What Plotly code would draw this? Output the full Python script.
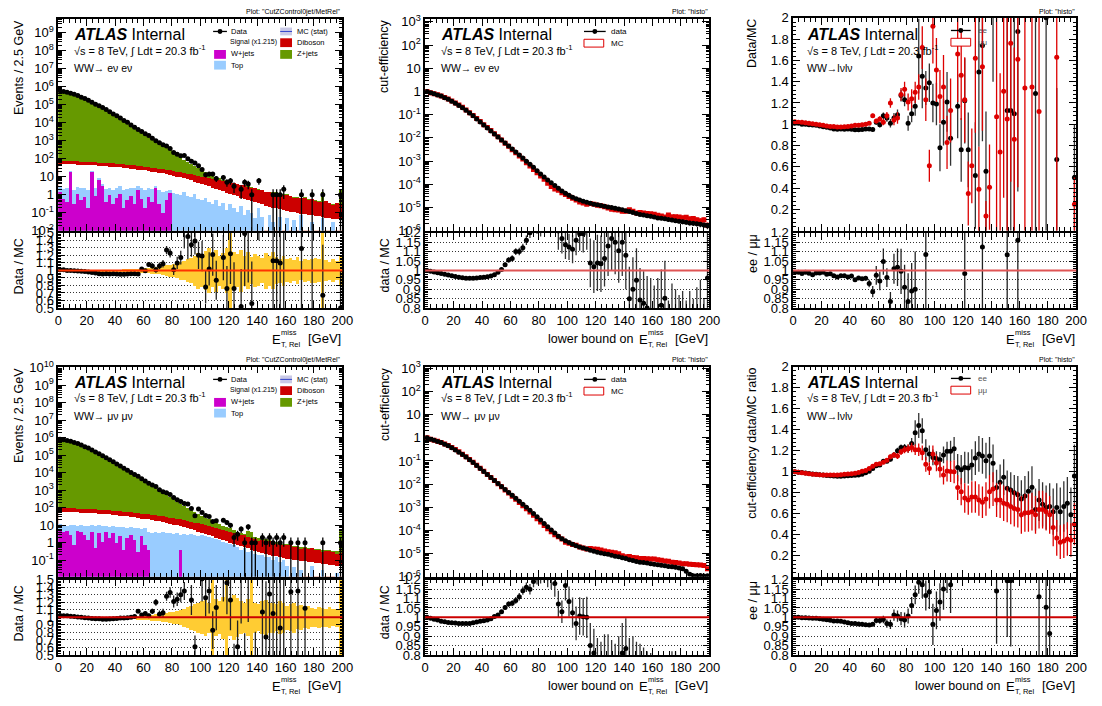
import plotly.graph_objects as go

W, H = 1102, 706
FONT = "Liberation Sans, Arial, Helvetica, sans-serif"
N = None
NBINS, BIN_W = 80, 2.5
X = [BIN_W * (i + 0.5) for i in range(NBINS)]

# ---------------- ee histogram (top-left), cumulative stack heights ----------------
Z_TOT_EE = [5.6e5,5.2e5,4.8e5,4.3e5,3.7e5,3.2e5,2.6e5,2.2e5,1.8e5,1.4e5,
            1.1e5,8.9e4,7.1e4,5.5e4,4.2e4,3.2e4,2.5e4,1.9e4,1.4e4,1.1e4,
            7.9e3,5.9e3,4.4e3,3.2e3,2.4e3,1.8e3,1.3e3,980,720,540,
            400,300,220,160,123,91,69,54,42,33,
            25,19,15,12,10,8.3,7.0,6.1,5.4,4.8,
            4.2,3.7,3.6,3.0,2.7,2.6,2.15,1.9,1.55,1.55,
            1.4,1.45,1.2,1.1,1.1,0.92,0.76,0.78,0.7,0.74,
            0.6,0.64,0.52,0.44,1.5,0.48,0.38,0.31,0.37,2.0]
DIB_CUM_EE = [83,79,79,76,76,74,72,71,69,68,
              66,63,62,60,58,56,54,52,50,48,
              46,44,42,40,37,35,33,31,29,27,
              25,23,21,19.5,18,16.5,15,13.8,12.6,11.5,
              10.5,9.7,8.9,8.2,7.5,6.8,6.1,5.5,4.9,4.4,
              3.9,3.5,3.4,2.8,2.5,2.5,2.0,1.8,1.4,1.45,
              1.3,1.35,1.1,1.0,1.05,0.85,0.7,0.72,0.66,0.7,
              0.56,0.6,0.48,0.4,0.41,0.45,0.35,0.28,0.35,0.28]
SIG_CUM_EE = [55,52,52,50,50,49,48,47,46,45,
              44,42,41,40,38,37,35,34,32,31,
              29,28,26,25,23,22,20,19,17,16,
              14,13,12,10.5,9.5,8.5,7.5,6.5,5.6,4.8,
              4.1,3.5,3.0,2.6,2.2,1.9,1.6,1.35,1.15,1.0,
              0.85,0.72,0.62,0.53,0.45,0.39,0.34,0.3,0.26,0.23,
              0.2,0.18,0.16,0.14,0.13,0.12,0.11,0.1,0.09,0.085,
              0.08,0.075,0.07,0.065,0.06,0.055,0.05,0.048,0.045,0.04]
TOP_CUM_EE = [3.0,2.2,2.5,22,2.0,2.8,2.4,2.6,2.0,22,
              2.6,8.5,4.0,2.2,2.6,2.0,2.4,3.2,2.0,2.2,
              2.6,2.4,3.0,2.3,2.0,2.4,2.2,3.0,1.8,1.5,
              1.6,2.0,1.3,1.2,1.0,1.4,0.9,0.8,1.1,0.6,
              0.5,0.7,0.4,0.3,0.5,0.25,0.35,0.15,0.3,0.2,
              0.12,0.25,0.08,0.15,0.1,0.05,0.2,0.06,N,0.08,
              0.03,N,0.06,N,0.05,N,0.04,N,0.08,N,
              N,0.03,N,N,0.05,N,N,0.03,N,N]
W_EE = [1.5,0.6,0.4,20,0.3,1.2,0.5,0.8,0.2,20,
        0.9,7.0,3.0,0.4,1.0,0.3,0.7,1.1,0.2,0.5,
        0.9,0.3,2.0,0.6,0.2,0.8,0.4,2.3,0.3,0.1,
        0.5,1.3] + [N] * 48
DATA_EE = [5.7e5,5.25e5,4.8e5,4.3e5,3.7e5,3.18e5,2.57e5,2.17e5,1.76e5,1.36e5,
           1.06e5,8.5e4,6.8e4,5.3e4,4.0e4,3.05e4,2.38e4,1.8e4,1.33e4,1.05e4,
           7.5e3,5.6e3,4.2e3,3.26e3,2.39e3,1.94e3,1.38e3,990,763,589,
           508,369,222,176,144,149,100,72,58,40,
           25,13,14,14,8,N,9,5,6,3,
           N,2,5,4,1,N,6,N,N,N,
           1,1,1,2,N,N,N,N,1,N,
           N,1,N,N,1,N,N,N,N,1]
MCSTAT_EE = [0.004,0.004,0.004,0.005,0.005,0.005,0.006,0.006,0.007,0.007,
             0.008,0.008,0.009,0.01,0.011,0.012,0.013,0.014,0.016,0.018,
             0.02,0.022,0.025,0.028,0.032,0.036,0.04,0.045,0.05,0.06,
             0.07,0.08,0.09,0.1,0.12,0.13,0.15,0.17,0.2,0.24,
             0.22,0.26,0.3,0.22,0.28,0.2,0.24,0.3,0.6,0.25,
             0.22,0.28,0.2,0.25,0.18,0.22,0.2,0.17,0.24,0.2,
             0.25,0.18,0.16,0.2,0.15,0.17,0.14,0.18,0.13,0.15,
             0.14,0.16,0.17,0.15,0.6,0.14,0.12,0.15,0.13,0.2]

# ---------------- mumu histogram (bottom-left) ----------------
Z_TOT_MM = [7.9e5,7.4e5,6.8e5,6.0e5,5.2e5,4.5e5,3.7e5,3.0e5,2.5e5,1.95e5,
            1.55e5,1.2e5,9.3e4,7.2e4,5.5e4,4.2e4,3.2e4,2.4e4,1.8e4,1.38e4,
            1.02e4,7.8e3,5.8e3,4.3e3,3.2e3,2.4e3,1.8e3,1.35e3,1.0e3,760,
            560,420,310,230,170,126,95,72,56,44,
            35,28,22,18,14,11.5,9.5,8.0,6.8,5.8,
            4.5,3.9,3.4,5.0,4.0,2.3,2.0,1.8,1.6,1.4,
            1.25,1.1,1.0,0.9,0.83,0.85,0.71,0.66,0.61,0.57,
            0.53,0.53,0.47,0.44,0.41,0.39,0.39,0.35,0.33,5.0]
DIB_CUM_MM = [105,100,98,96,95,93,91,89,87,85,
              82,80,77,75,72,70,67,64,61,58,
              56,53,50,48,45,43,40,38,35,33,
              31,28,26,24,22,20,18,16,14.5,13,
              11.5,10.5,9.2,8.2,7.2,6.3,5.5,4.8,4.2,3.7,
              3.2,2.8,2.9,2.2,1.95,1.75,1.3,1.4,1.25,1.3,
              1.0,0.92,0.75,0.78,0.72,0.8,0.62,0.58,0.48,0.5,
              0.47,0.5,0.41,0.38,0.3,0.34,0.36,0.3,0.24,0.26]
SIG_CUM_MM = [62,60,59,58,57,56,55,54,53,51,
              50,48,46,45,43,41,39,37,35,33,
              31,29,27,25,24,22,20,18.5,17,15.5,
              14,12.5,11,10,9,8,7,6,5.2,4.5,
              3.9,3.3,2.8,2.4,2.0,1.7,1.45,1.25,1.05,0.9,
              0.77,0.66,0.57,0.49,0.42,0.36,0.31,0.27,0.24,0.21,
              0.19,0.17,0.15,0.14,0.13,0.12,0.11,0.1,0.095,0.09,
              0.085,0.08,0.075,0.07,0.065,0.06,0.058,0.055,0.05,0.048]
TOP_CUM_MM = [12,11,9,10,10,9.5,11,9,9,10,
              9,10,9,9.5,8,9,8,8.5,8,7.5,
              8,7,7.5,6.5,7,4.0,3.5,4.5,3.8,4.2,
              3.5,3.8,3.2,3.6,3.0,3.4,2.8,3.2,3.0,2.6,
              2.8,2.5,2.2,2.0,1.8,1.4,1.2,1.0,0.9,0.8,
              0.6,0.4,0.5,0.3,0.35,0.25,0.2,0.22,0.15,0.16,
              0.1,0.15,0.08,0.1,0.05,N,0.04,N,0.03,N,
              N,0.05,N,N,0.03,N,N,N,0.02,N]
W_MM = [5,4,5,3,0.8,5,4.5,3,1.5,4,
        0.5,3.5,1.2,4,2,3.5,1,2.5,0.4,2,
        3,1.5,0.3,2.5,0.8,0.4,N,N,N,N,
        N,N,N,N,0.4] + [N] * 45
DATA_MM = [8.1e5,7.55e5,6.94e5,6.12e5,5.28e5,4.57e5,3.74e5,3.03e5,2.51e5,1.95e5,
           1.52e5,1.18e5,9.1e4,7.0e4,5.38e4,4.12e4,3.15e4,2.38e4,1.78e4,1.37e4,
           1.02e4,7.9e3,6.3e3,4.4e3,3.36e3,2.45e3,1.94e3,1.62e3,1.04e3,806,
           717,559,375,285,221,170,163,89,34,84,
           53,35,31,16,18,N,19,14,10,2,
           3,6,1,8,1,1,N,2,1,2,
           1,2,1,2,N,1,N,1,N,1,
           N,N,N,N,1,N,N,N,N,1]
MCSTAT_MM = [0.004,0.004,0.004,0.005,0.005,0.005,0.006,0.006,0.007,0.007,
             0.008,0.008,0.009,0.01,0.011,0.012,0.013,0.014,0.016,0.018,
             0.02,0.022,0.025,0.028,0.032,0.036,0.04,0.045,0.05,0.055,
             0.06,0.07,0.08,0.09,0.1,0.12,0.14,0.16,0.18,0.2,
             0.22,0.24,0.2,0.5,0.25,0.22,0.28,0.6,0.25,0.3,
             0.26,0.22,0.2,0.25,0.6,0.2,0.18,0.22,0.24,0.2,
             0.2,0.18,0.22,0.2,0.16,0.18,0.2,0.15,0.17,0.14,
             0.15,0.13,0.12,0.14,0.13,0.12,0.14,0.11,0.12,0.5]

# ---------------- histogram Data/MC ratios ----------------
RATIO_EE = [1.009,1.009,1.0,1.0,0.996,0.993,0.99,0.985,0.978,0.972,
            0.965,0.957,0.954,0.956,0.954,0.955,0.953,0.949,0.95,0.952,
            0.955,0.956,0.952,1.02,0.995,1.08,1.06,1.01,1.06,1.09,
            1.27,1.23,1.01,1.1,1.17,1.64,1.45,1.34,1.39,1.2,
            1.19,0.78,1.02,1.21,0.87,N,1.17,0.76,1.22,0.76,
            N,0.52,1.49,1.74,0.56,N,2.4,N,N,N,
            1.13,1.13,1.1,1.87,N,N,N,N,1.29,N,
            N,2.0,N,N,0.67,N,N,N,N,0.5]
RATIO_EE_ERR = [0.003,0.003,0.003,0.003,0.003,0.004,0.004,0.004,0.005,0.005,
                0.005,0.006,0.006,0.007,0.008,0.009,0.01,0.011,0.012,0.013,
                0.015,0.017,0.02,0.022,0.025,0.03,0.035,0.04,0.045,0.05,
                0.055,0.06,0.07,0.08,0.09,0.35,0.3,0.16,0.18,0.18,
                0.2,0.22,0.22,0.28,0.26,N,0.3,0.3,0.4,0.35,
                N,0.5,0.7,0.9,0.56,N,1.0,N,N,N,
                1.13,1.13,1.1,1.5,N,N,N,N,1.3,N,
                N,2.0,N,N,0.67,N,N,N,N,0.5]
RATIO_MM = [1.025,1.02,1.02,1.015,1.01,1.005,1.0,0.995,0.99,0.985,
            0.98,0.98,0.975,0.975,0.978,0.98,0.985,0.99,0.99,0.995,
            1.0,1.01,1.08,1.03,1.05,1.02,1.08,1.2,1.04,1.06,
            1.28,1.33,1.21,1.24,1.3,1.35,1.72,1.23,0.61,1.92,
            1.51,1.26,1.35,0.83,1.13,N,1.66,1.46,1.23,0.35,
            0.61,1.62,0.39,1.54,0.14,0.41,N,1.07,0.74,1.31,
            1.05,1.76,0.86,1.61,N,1.34,N,1.35,N,1.12,
            N,N,N,N,1.63,N,N,N,N,0.25]
RATIO_MM_ERR = [0.003,0.003,0.003,0.003,0.003,0.004,0.004,0.004,0.005,0.005,
                0.005,0.006,0.006,0.007,0.008,0.009,0.01,0.011,0.012,0.013,
                0.014,0.016,0.02,0.022,0.026,0.03,0.035,0.045,0.05,0.055,
                0.06,0.07,0.08,0.09,0.1,0.12,0.2,0.2,0.15,0.35,
                0.3,0.25,0.3,0.25,0.3,N,0.45,0.42,0.4,0.3,
                0.35,0.7,0.4,0.6,0.14,0.4,N,1.07,0.74,1.0,
                1.05,1.3,0.86,1.2,N,1.34,N,1.35,N,1.12,
                N,N,N,N,1.63,N,N,N,N,0.25]
EE_OVER_MM = [0.99,0.99,0.983,0.99,0.985,0.977,0.986,0.986,0.99,0.98,
              0.982,0.972,0.965,0.972,0.972,0.965,0.97,0.95,0.96,0.956,
              0.958,0.93,0.887,0.974,0.944,1.047,0.962,0.835,1.009,1.017,
              0.995,0.91,0.835,0.89,0.9,N,N,1.085,N,N,
              N,N,N,N,N,N,N,N,0.983,N,
              N,N,N,1.125,N,N,N,N,N,N,
              1.083,N,N,1.16,N,N,N,N,N,N,
              N,N,N,N,N,N,N,N,N,N]
EE_OVER_MM_ERR = [0.004,0.004,0.004,0.004,0.004,0.004,0.004,0.004,0.004,0.004,
                  0.004,0.004,0.004,0.004,0.004,0.004,0.006,0.006,0.008,0.008,
                  0.01,0.02,0.03,0.05,0.05,0.07,0.05,0.05,0.08,0.1,
                  0.12,0.12,0.15,0.15,0.2,N,N,0.5,N,N,
                  N,N,N,N,N,N,N,N,0.6,N,
                  N,N,N,0.8,N,N,N,N,N,N,
                  0.8,N,N,0.8,N,N,N,N,N,N,
                  N,N,N,N,N,N,N,N,N,N]

# ---------------- cut efficiencies ----------------
CE_DATA_EE = [1.0,0.87,0.79,0.71,0.63,0.54,0.46,0.38,0.31,0.25,
              0.2,0.155,0.117,0.089,0.066,0.049,0.036,0.027,0.02,0.0148,
              0.011,0.0081,0.006,0.0045,0.0033,0.00245,0.00182,0.00135,1.0e-3,7.4e-4,
              5.4e-4,3.9e-4,2.8e-4,2.1e-4,1.55e-4,1.17e-4,8.9e-5,6.8e-5,5.2e-5,4.2e-5,
              3.4e-5,2.8e-5,2.4e-5,2.1e-5,1.86e-5,1.7e-5,1.55e-5,1.41e-5,1.32e-5,1.23e-5,
              1.15e-5,1.07e-5,1.0e-5,9.3e-6,8.7e-6,8.1e-6,7.4e-6,6.8e-6,6.2e-6,5.6e-6,
              5.1e-6,4.8e-6,4.5e-6,4.2e-6,3.9e-6,3.6e-6,3.5e-6,3.3e-6,3.1e-6,2.95e-6,
              2.75e-6,2.6e-6,2.45e-6,2.35e-6,2.2e-6,2.1e-6,2.0e-6,1.9e-6,1.78e-6,1.66e-6]
CE_MC_EE = [1.0,0.875,0.8,0.72,0.64,0.55,0.47,0.39,0.32,0.26,
            0.208,0.161,0.122,0.093,0.069,0.051,0.037,0.028,0.0206,0.0152,
            0.0112,0.0081,0.0059,0.0044,0.0031,0.0023,0.00165,0.00123,8.6e-4,6.2e-4,
            4.4e-4,3.2e-4,2.3e-4,1.65e-4,1.13e-4,8.1e-5,6.4e-5,5.6e-5,4.4e-5,3.7e-5,
            3.0e-5,2.5e-5,2.1e-5,1.76e-5,1.56e-5,1.4e-5,1.49e-5,1.38e-5,1.27e-5,1.19e-5,
            1.08e-5,9.5e-6,8.5e-6,8.1e-6,7.9e-6,7.0e-6,6.9e-6,8.0e-6,6.9e-6,5.9e-6,
            6.1e-6,5.8e-6,5.6e-6,5.4e-6,5.2e-6,4.7e-6,4.3e-6,3.9e-6,4.8e-6,4.0e-6,
            4.0e-6,3.9e-6,3.7e-6,3.8e-6,3.3e-6,3.4e-6,3.0e-6,2.7e-6,3.0e-6,1.75e-6]
CE_DATA_MM = [1.0,0.87,0.78,0.7,0.62,0.53,0.45,0.37,0.3,0.24,
              0.19,0.148,0.112,0.085,0.063,0.047,0.035,0.026,0.0193,0.0143,
              0.0106,0.0079,0.0059,0.0044,0.0033,0.00245,0.00183,0.00136,1.0e-3,7.4e-4,
              5.4e-4,3.9e-4,2.8e-4,2.0e-4,1.45e-4,1.05e-4,7.7e-5,5.7e-5,4.4e-5,3.6e-5,
              3.0e-5,2.55e-5,2.2e-5,1.95e-5,1.75e-5,1.6e-5,1.4e-5,1.27e-5,1.15e-5,1.06e-5,
              9.9e-6,9.3e-6,8.5e-6,7.8e-6,7.3e-6,6.6e-6,6.1e-6,5.5e-6,5.0e-6,4.6e-6,
              4.3e-6,4.1e-6,3.9e-6,3.7e-6,3.5e-6,3.3e-6,3.15e-6,3.0e-6,2.8e-6,2.7e-6,
              2.6e-6,2.4e-6,2.2e-6,1.75e-6,1.3e-6,1.12e-6,1.12e-6,1.15e-6,1.08e-6,1.1e-6]
CE_MC_MM = [1.0,0.875,0.79,0.71,0.63,0.54,0.46,0.38,0.31,0.248,
            0.196,0.153,0.116,0.0875,0.0646,0.048,0.0356,0.0262,0.0194,0.0142,
            0.0105,0.0077,0.0056,0.0041,0.003,0.0022,0.0016,0.00117,8.6e-4,6.2e-4,
            4.5e-4,3.2e-4,2.3e-4,1.63e-4,1.2e-4,8.7e-5,6.5e-5,5.3e-5,4.3e-5,3.1e-5,
            2.8e-5,2.5e-5,2.3e-5,1.94e-5,1.75e-5,1.6e-5,1.65e-5,1.57e-5,1.53e-5,1.45e-5,
            1.3e-5,1.22e-5,1.16e-5,1.1e-5,9.9e-6,8.1e-6,7.3e-6,7.5e-6,6.8e-6,6.6e-6,
            6.2e-6,6.1e-6,6.0e-6,5.8e-6,5.9e-6,5.4e-6,5.2e-6,4.8e-6,4.7e-6,4.2e-6,
            4.1e-6,3.9e-6,3.7e-6,3.7e-6,3.5e-6,3.4e-6,3.3e-6,3.2e-6,3.1e-6,2.2e-6]
CE_RATIO_EE = [1.0,0.996,0.992,0.988,0.983,0.979,0.976,0.972,0.968,0.964,
               0.961,0.959,0.958,0.958,0.96,0.962,0.964,0.966,0.97,0.977,
               0.99,1.005,1.03,1.056,1.064,1.1,1.1,1.12,1.16,1.2,
               1.23,1.23,1.22,1.27,1.37,1.44,1.39,1.21,1.17,1.136,
               1.125,1.113,1.16,1.195,1.195,1.22,1.04,1.02,1.04,1.035,
               1.064,1.13,1.17,1.15,1.105,1.15,1.08,0.85,0.9,0.948,
               0.843,0.826,0.8,0.78,0.74,0.77,0.815,0.852,0.64,0.73,
               0.69,0.66,0.67,0.62,0.66,0.62,0.67,0.7,0.59,0.96]
CE_RATIO_EE_ERR = [0.001,0.001,0.001,0.001,0.002,0.002,0.002,0.002,0.003,0.003,
                   0.003,0.004,0.004,0.005,0.005,0.006,0.006,0.007,0.008,0.009,
                   0.01,0.011,0.012,0.014,0.016,0.018,0.02,0.022,0.025,0.028,
                   0.03,0.035,0.04,0.05,0.12,0.12,0.12,0.1,0.08,0.075,
                   0.07,0.075,0.08,0.09,0.1,0.11,0.13,0.14,0.15,0.15,
                   0.15,0.16,0.17,0.17,0.17,0.18,0.18,0.17,0.17,0.17,
                   0.17,0.17,0.17,0.18,0.18,0.19,0.19,0.2,0.2,0.2,
                   0.21,0.21,0.22,0.22,0.23,0.23,0.24,0.25,0.26,0.3]
CE_RATIO_MM = [1.0,0.995,0.99,0.986,0.98,0.977,0.973,0.971,0.97,0.968,
               0.968,0.968,0.968,0.972,0.975,0.979,0.982,0.986,0.993,1.004,
               1.012,1.03,1.052,1.071,1.075,1.09,1.11,1.142,1.16,1.15,
               1.19,1.21,1.22,1.23,1.21,1.21,1.18,1.071,1.03,1.17,
               1.084,1.025,0.968,1.007,1.003,1.0,0.85,0.81,0.75,0.73,
               0.76,0.76,0.73,0.71,0.74,0.81,0.835,0.73,0.73,0.7,
               0.69,0.67,0.65,0.64,0.59,0.61,0.61,0.62,0.59,0.64,
               0.64,0.62,0.59,0.47,0.37,0.33,0.34,0.36,0.35,0.5]
CE_RATIO_MM_ERR = [0.001,0.001,0.001,0.001,0.002,0.002,0.002,0.002,0.003,0.003,
                   0.003,0.004,0.004,0.005,0.005,0.006,0.006,0.007,0.008,0.009,
                   0.01,0.011,0.012,0.014,0.016,0.018,0.02,0.022,0.025,0.028,
                   0.03,0.035,0.04,0.045,0.05,0.06,0.07,0.07,0.06,0.08,
                   0.08,0.08,0.09,0.1,0.1,0.11,0.12,0.13,0.14,0.14,
                   0.15,0.15,0.15,0.15,0.16,0.16,0.16,0.16,0.17,0.17,
                   0.17,0.17,0.17,0.17,0.18,0.18,0.18,0.18,0.18,0.18,
                   0.18,0.18,0.18,0.18,0.17,0.16,0.16,0.16,0.16,0.2]
CE_EE_OVER_MM = [1.0,1.0,0.998,0.998,0.996,0.995,0.995,0.993,0.99,0.988,
                 0.985,0.981,0.981,0.979,0.975,0.972,0.968,0.967,0.965,0.963,
                 0.961,0.96,0.963,0.984,0.984,0.989,0.967,0.963,1.012,1.007,
                 0.993,0.986,1.007,1.063,1.12,1.186,1.173,1.116,1.135,0.963,
                 1.037,1.082,1.151,1.25,1.173,N,N,N,N,N,
                 N,N,N,N,N,N,N,1.14,N,N,
                 1.195,1.195,N,N,N,N,N,N,N,1.109,
                 N,1.054,0.914,N,N,N,N,N,N,N]
CE_EE_OVER_MM_ERR = [0.002,0.002,0.002,0.002,0.002,0.002,0.003,0.003,0.003,0.003,
                     0.004,0.004,0.004,0.005,0.005,0.006,0.006,0.007,0.007,0.008,
                     0.008,0.009,0.01,0.015,0.018,0.02,0.022,0.025,0.03,0.03,
                     0.035,0.04,0.04,0.045,0.05,0.06,0.07,0.08,0.09,0.11,
                     0.1,0.1,0.11,0.12,0.15,N,N,N,N,N,
                     N,N,N,N,N,N,N,0.28,N,N,
                     0.3,0.35,N,N,N,N,N,N,N,0.5,
                     N,0.6,0.6,N,N,N,N,N,N,N]

X_TICKS = [0, 20, 40, 60, 80, 100, 120, 140, 160, 180, 200]
R1_VALS = [0.5, 0.6, 0.7, 0.8, 0.9, 1.0, 1.1, 1.2, 1.3, 1.4, 1.5]
R1_TXT = ["0.5", "0.6", "0.7", "0.8", "0.9", "1", "1.1", "1.2", "1.3", "1.4", "1.5"]
R2_VALS = [0.8, 0.85, 0.9, 0.95, 1.0, 1.05, 1.1, 1.15, 1.2]
R2_TXT = ["0.8", "0.85", "0.9", "0.95", "1", "1.05", "1.1", "1.15", "1.2"]
R3_VALS = [0.2, 0.4, 0.6, 0.8, 1.0, 1.2, 1.4, 1.6, 1.8, 2.0]
R3_TXT = ["0.2", "0.4", "0.6", "0.8", "1", "1.2", "1.4", "1.6", "1.8", "2"]

for arr in [Z_TOT_EE, DIB_CUM_EE, SIG_CUM_EE, TOP_CUM_EE, W_EE, DATA_EE, MCSTAT_EE,
            Z_TOT_MM, DIB_CUM_MM, SIG_CUM_MM, TOP_CUM_MM, W_MM, DATA_MM, MCSTAT_MM,
            RATIO_EE, RATIO_EE_ERR, RATIO_MM, RATIO_MM_ERR, EE_OVER_MM, EE_OVER_MM_ERR,
            CE_DATA_EE, CE_MC_EE, CE_DATA_MM, CE_MC_MM, CE_RATIO_EE, CE_RATIO_EE_ERR,
            CE_RATIO_MM, CE_RATIO_MM_ERR, CE_EE_OVER_MM, CE_EE_OVER_MM_ERR]:
    assert len(arr) == NBINS, len(arr)

C_Z, C_DIB, C_SIG, C_TOP, C_W = "#669900", "#cc0000", "#ffffff", "#99ccff", "#cc00cc"
C_BAND = "#ffcc33"
C_RED = "#dd0000"

fig = go.Figure()
layout = dict(width=W, height=H, margin=dict(l=0, r=0, t=0, b=0), paper_bgcolor="white",
              plot_bgcolor="white", barmode="overlay", bargap=0, showlegend=False,
              font=dict(family=FONT, size=13, color="black"))
anns, shapes = [], []


def px(x):
    return x / W


def py(y):
    return 1 - y / H


COLS = [(55, 343), (427, 715), (800, 1087)]
TF = dict(family=FONT, size=13, color="black")


def names(i):
    s = "" if i == 1 else str(i)
    return "xaxis" + s, "yaxis" + s, "x" + s, "y" + s


def base_axis():
    return dict(showline=True, linecolor="black", linewidth=1.5, mirror="allticks",
                ticks="inside", tickcolor="black", tickwidth=1, zeroline=False,
                tickfont=TF, showgrid=False)


def make_axes(i, col, top, bot, ycfg, xlabels):
    xa, ya, xr, yr = names(i)
    x = base_axis()
    x.update(domain=[px(COLS[col][0]), px(COLS[col][1])], anchor=yr, range=[0, 200],
             tickmode="array", tickvals=X_TICKS, ticklen=7, showticklabels=xlabels,
             minor=dict(ticks="inside", ticklen=4, tickcolor="black", dtick=4, tick0=0, showgrid=False))
    y = base_axis()
    y.update(domain=[py(bot), py(top)], anchor=xr)
    y.update(ycfg)
    layout[xa] = x
    layout[ya] = y
    return xr, yr


def ylog(lo, hi, kmin, kmax):
    ks = list(range(kmin, kmax + 1))
    vals = [10.0 ** k for k in ks]
    txt = ["1" if k == 0 else "10" if k == 1 else "10<sup>%d</sup>" % k for k in ks]
    return dict(type="log", range=[lo, hi], tickmode="array", tickvals=vals, ticktext=txt, ticklen=8,
                minor=dict(ticks="inside", ticklen=4, tickcolor="black", dtick="D1", showgrid=False))


def ylin(lo, hi, vals, txt, mdt, grid):
    d = dict(type="linear", range=[lo, hi], tickmode="array", tickvals=vals, ticktext=txt, ticklen=7,
             minor=dict(ticks="inside", ticklen=3, tickcolor="black", dtick=mdt, tick0=lo, showgrid=False))
    if grid:
        d.update(showgrid=True, gridcolor="#333333", gridwidth=1, griddash="1px,2px")
    return d


def bar(xr, yr, y, color, base=None):
    fig.add_trace(go.Bar(x=X, y=y, base=base, width=BIN_W, marker=dict(color=color, line=dict(width=0)),
                         xaxis=xr, yaxis=yr, hoverinfo="skip"))


def pts(xr, yr, y, err, color="black", ecolor="black", errminus=None, size=5, symbol="circle"):
    e = dict(type="data", array=err, color=ecolor, thickness=1.3, width=0, visible=True)
    if errminus is not None:
        e.update(symmetric=False, arrayminus=errminus)
    fig.add_trace(go.Scatter(x=X, y=y, mode="markers",
                             marker=dict(color=color, size=size, symbol=symbol, line=dict(width=0)),
                             error_y=e, xaxis=xr, yaxis=yr, hoverinfo="skip"))


def unity(xr, yr, color, width=1.5):
    shapes.append(dict(type="line", xref=xr + " domain", x0=0, x1=1, yref=yr, y0=1, y1=1,
                       line=dict(color=color, width=width), layer="above"))


def text(x, y, s, size, xanchor="left", yanchor="middle", color="black", angle=0):
    anns.append(dict(xref="paper", yref="paper", x=px(x), y=py(y), text=s, showarrow=False,
                     xanchor=xanchor, yanchor=yanchor, textangle=angle, borderpad=0,
                     font=dict(family=FONT, size=size, color=color)))


def rect(x0, y0, x1, y1, fill, line=None):
    shapes.append(dict(type="rect", xref="paper", yref="paper", x0=px(x0), x1=px(x1), y0=py(y1), y1=py(y0),
                       fillcolor=fill, line=dict(width=1 if line else 0, color=line or fill), layer="above"))


def hline(x0, x1, y, color="black", width=1.3):
    shapes.append(dict(type="line", xref="paper", yref="paper", x0=px(x0), x1=px(x1), y0=py(y), y1=py(y),
                       line=dict(color=color, width=width), layer="above"))


def dot(x, y, r, color):
    shapes.append(dict(type="circle", xref="paper", yref="paper", x0=px(x - r), x1=px(x + r),
                       y0=py(y + r), y1=py(y - r), fillcolor=color, line=dict(width=0), layer="above"))


def xtitle(R, yc, lower):
    text(R, yc, "[GeV]", 13, xanchor="right")
    text(R - 72, yc + 1, "E", 13)
    text(R - 63, yc - 6, "miss", 7.5)
    text(R - 63, yc + 6, "T, Rel", 7.5)
    if lower:
        text(R - 75, yc + 1, "lower bound on", 12.5, xanchor="right")


def atlas(x, y, channel):
    text(x, y, "<b><i>ATLAS</i></b> Internal", 16)
    text(x, y + 16, "\u221as = 8 TeV, \u222b Ldt = 20.3 fb<sup>-1</sup>", 11)
    text(x, y + 34, channel, 10.5)


def hist_panel(row, i, Z, DIB, SIG, TOP, WJ, DATA, BAND, RAT, RERR, logr, kmax, chan, linecol):
    off = 356 * row
    top, bot = (11, 228) if row == 0 else (367, 582)
    rtop, rbot = (230, 307) if row == 0 else (585, 662)
    xr, yr = make_axes(i, 0, top, bot, ylog(logr[0], logr[1], -2, kmax), False)
    for arr, col in [(Z, C_Z), (DIB, C_DIB), (SIG, C_SIG), (TOP, C_TOP), (WJ, C_W)]:
        bar(xr, yr, arr, col)
    up = [v ** 0.5 if v else None for v in DATA]
    dn = [min(v ** 0.5, 0.9999 * v) if v else None for v in DATA]
    pts(xr, yr, DATA, up, errminus=dn)
    xr2, yr2 = make_axes(i + 1, 0, rtop, rbot, ylin(0.5, 1.5, R1_VALS, R1_TXT, 0.02, True), True)
    bar(xr2, yr2, [2 * e for e in BAND], C_BAND, base=[1 - e for e in BAND])
    unity(xr2, yr2, linecol, 2)
    pts(xr2, yr2, RAT, RERR, ecolor="#222")
    atlas(70, 27 + off, chan)
    text(343, 4 + off, 'Plot: "CutZControl0jet/MetRel"', 7, xanchor="right")
    text(15, top, "Events / 2.5 GeV", 12.5, xanchor="center", yanchor="top", angle=-90)
    text(15, rtop + 5, "Data / MC", 12.5, xanchor="center", yanchor="top", angle=-90)
    xtitle(343, 338 + 355 * row, False)
    # legend
    hline(212, 226, 24 + off)
    dot(219, 24 + off, 2.5, "black")
    text(229, 24 + off, "Data", 7.5)
    rect(280, 20 + off, 292, 28 + off, "#c9c9e6")
    hline(280, 292, 24 + off, "#3344cc", 1)
    text(296, 24 + off, "MC (stat)", 7.5)
    text(228, 35 + off, "Signal (x1.215)", 7)
    rect(280, 31 + off, 292, 40 + off, C_DIB)
    text(296, 35 + off, "Diboson", 7.5)
    rect(213, 43 + off, 225, 52 + off, C_W)
    text(229, 47 + off, "W+jets", 7.5)
    rect(280, 43 + off, 292, 52 + off, C_Z)
    text(296, 47 + off, "Z+jets", 7.5)
    rect(213, 54 + off, 225, 63 + off, C_TOP)
    text(229, 59 + off, "Top", 7.5)


def ce_panel(row, i, DATA, MC, RAT, RERR, hi, chan, linecol):
    off = 356 * row
    top, bot = (11, 228) if row == 0 else (367, 582)
    rtop, rbot = (230, 307) if row == 0 else (585, 662)
    xr, yr = make_axes(i, 1, top, bot, ylog(-6, hi, -6, 3), False)
    pts(xr, yr, MC, [m * e for m, e in zip(MC, RERR)], color=C_RED, ecolor=C_RED, symbol="square", size=5)
    pts(xr, yr, DATA, [d * e for d, e in zip(DATA, RERR)], ecolor="#222")
    xr2, yr2 = make_axes(i + 1, 1, rtop, rbot, ylin(0.8, 1.2, R2_VALS, R2_TXT, 0.01, True), True)
    unity(xr2, yr2, linecol, 2)
    pts(xr2, yr2, RAT, RERR, ecolor="#333")
    atlas(442, 27 + off, chan)
    text(715, 4 + off, 'Plot: "histo"', 7, xanchor="right")
    text(386, top, "cut-efficiency", 12.5, xanchor="center", yanchor="top", angle=-90)
    text(386, rtop + 5, "data / MC", 12.5, xanchor="center", yanchor="top", angle=-90)
    xtitle(715, 338 + 355 * row, True)
    hline(588, 610, 24 + off)
    dot(599, 24 + off, 2.5, "black")
    text(614, 24 + off, "data", 8)
    rect(588, 32 + off, 608, 40 + off, "white", C_RED)
    text(614, 36 + off, "MC", 8)


def cmp_panel(row, i, EE, EERR, MM, MERR, RAT, RERR, ytitle, lower, linecol):
    off = 356 * row
    top, bot = (10, 228) if row == 0 else (367, 582)
    rtop, rbot = (230, 307) if row == 0 else (585, 662)
    xr, yr = make_axes(i, 2, top, bot, ylin(0, 2, R3_VALS, R3_TXT, 0.04, False), False)
    pts(xr, yr, EE, EERR, ecolor="#333")
    pts(xr, yr, MM, MERR, color=C_RED, ecolor=C_RED)
    xr2, yr2 = make_axes(i + 1, 2, rtop, rbot, ylin(0.8, 1.2, R2_VALS, R2_TXT, 0.01, True), True)
    unity(xr2, yr2, linecol, 2)
    pts(xr2, yr2, RAT, RERR, ecolor="#222")
    atlas(813, 27 + off, "WW\u2192l\u03bdl\u03bd")
    text(1087, 4 + off, 'Plot: "histo"', 7, xanchor="right")
    text(759, top, ytitle, 12.5, xanchor="center", yanchor="top", angle=-90)
    text(760, rtop, "ee / \u03bc\u03bc", 12.5, xanchor="center", yanchor="top", angle=-90)
    xtitle(1087, 338 + 355 * row, lower)
    hline(960, 980, 23 + off)
    dot(970, 23 + off, 2.5, "black")
    text(986, 23 + off, "ee", 8, color="#555")
    rect(960, 31 + off, 980, 39 + off, "white", C_RED)
    text(986, 35 + off, "\u03bc\u03bc", 8, color="#555")


hist_panel(0, 1, Z_TOT_EE, DIB_CUM_EE, SIG_CUM_EE, TOP_CUM_EE, W_EE, DATA_EE, MCSTAT_EE,
           RATIO_EE, RATIO_EE_ERR, (-2, 9.76), 9, "WW\u2192 e\u03bd e\u03bd", "#ff3300")
ce_panel(0, 3, CE_DATA_EE, CE_MC_EE, CE_RATIO_EE, CE_RATIO_EE_ERR, 3.13,
         "WW\u2192 e\u03bd e\u03bd", "#e05555")
cmp_panel(0, 5, RATIO_EE, RATIO_EE_ERR, RATIO_MM, RATIO_MM_ERR, EE_OVER_MM, EE_OVER_MM_ERR,
          "Data/MC", False, "#e05555")
hist_panel(1, 7, Z_TOT_MM, DIB_CUM_MM, SIG_CUM_MM, TOP_CUM_MM, W_MM, DATA_MM, MCSTAT_MM,
           RATIO_MM, RATIO_MM_ERR, (-1.95, 10.05), 10, "WW\u2192 \u03bc\u03bd \u03bc\u03bd", "#cc0000")
ce_panel(1, 9, CE_DATA_MM, CE_MC_MM, CE_RATIO_MM, CE_RATIO_MM_ERR, 3.07,
         "WW\u2192 \u03bc\u03bd \u03bc\u03bd", "#cc0000")
cmp_panel(1, 11, CE_RATIO_EE, CE_RATIO_EE_ERR, CE_RATIO_MM, CE_RATIO_MM_ERR, CE_EE_OVER_MM,
          CE_EE_OVER_MM_ERR, "cut-efficiency data/MC ratio", True, "#cc0000")

layout["annotations"] = anns
layout["shapes"] = shapes
fig.update_layout(**layout)
fig.write_html("out.html", config={"displayModeBar": False},
               post_script="document.body.style.margin='0px';document.body.style.overflow='hidden';")
